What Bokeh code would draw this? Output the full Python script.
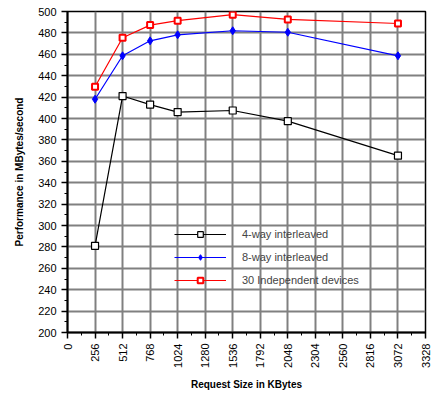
import numpy as np
from bokeh.plotting import figure
from bokeh.models import (Range1d, SingleIntervalTicker, Legend, LegendItem)
from bokeh.embed import file_html
from bokeh.resources import INLINE

sizes = [256, 512, 768, 1024, 1536, 2048, 3072]
way4 = [281, 421, 413, 406, 407.5, 397.5, 365.3]
way8 = [418, 458.6, 472.6, 478.2, 482, 480.6, 458.6]
indep30 = [429.7, 475.5, 487.3, 491.4, 497, 492.6, 488.8]
labels = ["4-way interleaved", "8-way interleaved", "30 Independent devices"]

FONT = "Liberation Sans"

p = figure(width=432, height=392, output_backend="svg", toolbar_location=None,
           x_range=Range1d(0, 3328), y_range=Range1d(200, 500),
           min_border_left=67, min_border_right=7, min_border_top=11, min_border_bottom=57,
           background_fill_color="white", border_fill_color="white")
p.outline_line_color = "black"
p.outline_line_width = 1.5

p.xaxis.ticker = SingleIntervalTicker(interval=256, num_minor_ticks=2)
p.yaxis.ticker = SingleIntervalTicker(interval=20, num_minor_ticks=2)
for ax in (p.xaxis, p.yaxis):
    ax.axis_line_color = "black"
    ax.axis_line_width = 2
    ax.major_tick_line_color = "black"
    ax.major_tick_line_width = 1.5
    ax.minor_tick_line_color = "black"
    ax.minor_tick_line_width = 1
    ax.major_tick_out = 6
    ax.major_tick_in = 0
    ax.minor_tick_out = 3
    ax.minor_tick_in = 0
    ax.major_label_text_font = FONT
    ax.major_label_text_font_size = "11px"
    ax.major_label_text_color = "black"
    ax.axis_label_text_font = FONT
    ax.axis_label_text_font_size = "10px"
    ax.axis_label_text_font_style = "bold"
    ax.axis_label_text_color = "black"
p.xaxis.major_label_orientation = np.pi / 2
p.xaxis.axis_label = "Request Size in KBytes"
p.yaxis.axis_label = "Performance in MBytes/second"
p.xaxis.axis_label_standoff = 8
p.yaxis.axis_label_standoff = 10

p.grid.grid_line_color = "#808080"
p.grid.grid_line_width = 2
p.grid.grid_line_alpha = 1

l1 = p.line(sizes, way4, line_color="black", line_width=1.2)
m1 = p.scatter(sizes, way4, marker="square", size=7, fill_color="white",
               line_color="black", line_width=1.2)
l2 = p.line(sizes, way8, line_color="blue", line_width=1.2)
m2 = p.scatter(sizes, way8, marker="diamond", size=8, fill_color="blue",
               line_color="blue", line_width=1)
l3 = p.line(sizes, indep30, line_color="red", line_width=1.2)
m3 = p.scatter(sizes, indep30, marker="square", size=6, fill_color="white",
               line_color="red", line_width=2)

legend = Legend(items=[LegendItem(label=labels[0], renderers=[l1, m1]),
                       LegendItem(label=labels[1], renderers=[l2, m2]),
                       LegendItem(label=labels[2], renderers=[l3, m3])],
                location=(107, 45), padding=0, margin=0, spacing=9,
                glyph_width=52, glyph_height=14, label_standoff=16,
                label_text_font=FONT, label_text_font_size="11px",
                background_fill_alpha=0, border_line_alpha=0)
p.add_layout(legend, "center")

open("out.html", "w").write(file_html(p, INLINE))
